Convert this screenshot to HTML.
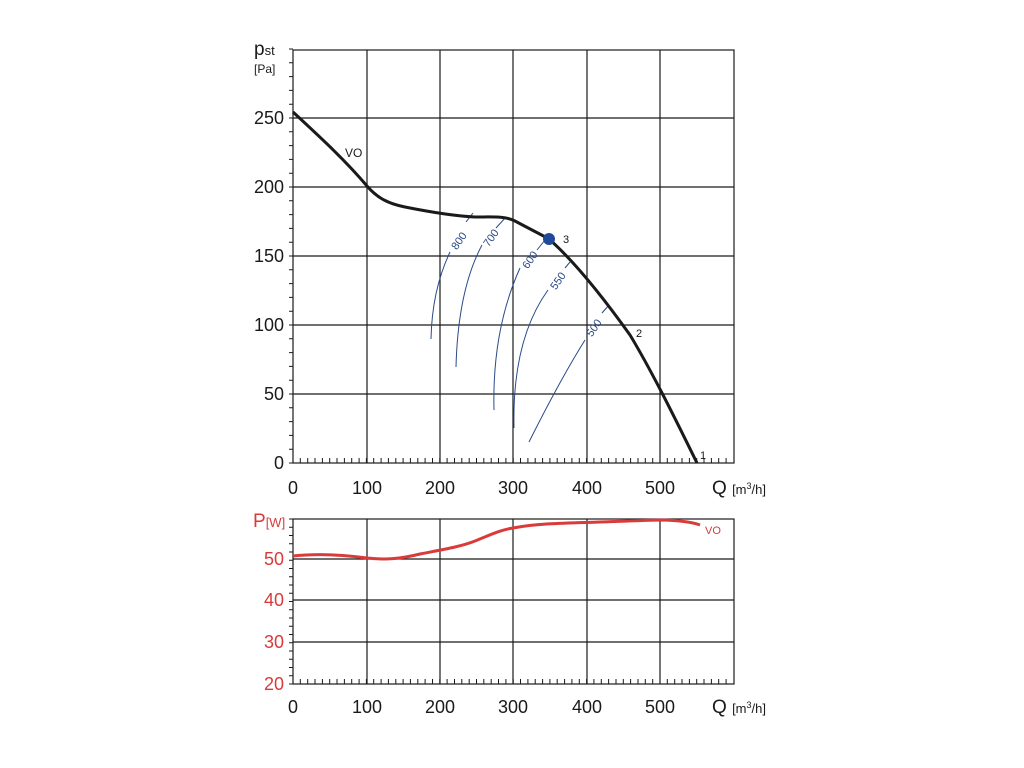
<!DOCTYPE html>
<html><head><meta charset="utf-8"><style>
html,body{margin:0;padding:0;background:#fff;}
svg{display:block;font-family:"Liberation Sans",Arial,sans-serif;}
</style></head><body>
<svg width="1024" height="768" viewBox="0 0 1024 768" xmlns="http://www.w3.org/2000/svg">
<g stroke="#1a1a1a" stroke-width="1.2" fill="none">
<rect x="293" y="50" width="441" height="413"/>
<path d="M367 50V463M440 50V463M513 50V463M587 50V463M660 50V463"/>
<path d="M293 118H734M293 187H734M293 256H734M293 325H734M293 394H734"/>
<rect x="293" y="519" width="441" height="165"/>
<path d="M367 519V684M440 519V684M513 519V684M587 519V684M660 519V684"/>
<path d="M293 559H734M293 600H734M293 642H734"/>
</g>
<g id="tk" stroke="#1a1a1a" stroke-width="1"></g>
<g stroke="#2a4a8a" stroke-width="1" fill="none">
<path d="M431 339 Q432 290 450 252"/><path d="M466 222 L473 213"/>
<path d="M456 367 Q458 290 482 245"/><path d="M496 228 L506 217"/>
<path d="M494 410 Q492 330 520 268"/><path d="M537 250 L545 240"/>
<path d="M514 428 Q512 340 548 290"/><path d="M565 268 L570 262"/>
<path d="M529 442 Q560 380 585 340"/><path d="M602 313 L609 305"/>
</g>
<g fill="#2a4a8a" font-size="11">
<text transform="translate(462,243) rotate(-55)" text-anchor="middle">800</text>
<text transform="translate(494,240) rotate(-55)" text-anchor="middle">700</text>
<text transform="translate(533,262) rotate(-55)" text-anchor="middle">600</text>
<text transform="translate(561,283) rotate(-55)" text-anchor="middle">550</text>
<text transform="translate(597,330) rotate(-55)" text-anchor="middle">500</text>
</g>
<path d="M293 112 C320 137 345 160 367 186 C378 199 390 204 405 207 C430 212 455 216 475 217 C495 217 505 216 515 221 C528 228 540 234 549 239 C575 262 605 300 630 335 C650 368 672 412 697 463" stroke="#1a1a1a" stroke-width="3" fill="none"/>
<circle cx="549" cy="239" r="6" fill="#1f4a99"/>
<g font-size="11" fill="#1a1a1a">
<text x="345" y="157" font-size="12">VO</text>
<text x="563" y="243">3</text>
<text x="636" y="337">2</text>
<text x="700" y="459">1</text>
</g>
<path d="d" stroke="none"/>
<path d="M293 556 C320 553 345 555 367 558 C385 560 400 559 420 554 C440 550 460 547 475 541 C490 535 500 530 513 528 C540 523 570 523 600 522 C630 521 650 520 665 520 C685 521 695 523 700 525" stroke="#d93a3a" stroke-width="3" fill="none"/>
<text x="705" y="534" font-size="11" fill="#d93a3a">VO</text>
<g font-size="18" fill="#1a1a1a" text-anchor="end">
<text x="284" y="124">250</text><text x="284" y="193">200</text><text x="284" y="262">150</text>
<text x="284" y="331">100</text><text x="284" y="400">50</text><text x="284" y="469">0</text>
</g>
<text x="254" y="55" font-size="19" fill="#1a1a1a">p<tspan font-size="13">st</tspan></text>
<text x="254" y="73" font-size="12" fill="#1a1a1a">[Pa]</text>
<g font-size="18" fill="#1a1a1a" text-anchor="middle">
<text x="293" y="494">0</text><text x="367" y="494">100</text><text x="440" y="494">200</text>
<text x="513" y="494">300</text><text x="587" y="494">400</text><text x="660" y="494">500</text>
<text x="293" y="713">0</text><text x="367" y="713">100</text><text x="440" y="713">200</text>
<text x="513" y="713">300</text><text x="587" y="713">400</text><text x="660" y="713">500</text>
</g>
<text x="712" y="494" font-size="19" fill="#1a1a1a">Q <tspan font-size="13">[m<tspan font-size="9" dy="-5">3</tspan><tspan dy="5">/h]</tspan></tspan></text>
<text x="712" y="713" font-size="19" fill="#1a1a1a">Q <tspan font-size="13">[m<tspan font-size="9" dy="-5">3</tspan><tspan dy="5">/h]</tspan></tspan></text>
<g font-size="18" fill="#d93a3a" text-anchor="end">
<text x="284" y="565">50</text><text x="284" y="606">40</text><text x="284" y="648">30</text><text x="284" y="690">20</text>
</g>
<text x="253" y="527" font-size="19" fill="#d93a3a">P<tspan font-size="13">[W]</tspan></text>
<script>
var g=document.getElementById('tk'),d='';
for(var i=1;i<60;i++){var x=293+i*7.34;d+='M'+x.toFixed(1)+' 463v-5M'+x.toFixed(1)+' 684v-5';}
for(var j=0;j<=30;j++){var y=463-j*13.8;d+='M289 '+y.toFixed(1)+'h4';}
for(var k=0;k<=20;k++){var y2=684-k*8.25;d+='M289 '+y2.toFixed(1)+'h4';}
var p=document.createElementNS('http://www.w3.org/2000/svg','path');p.setAttribute('d',d);g.appendChild(p);
</script>
</svg>
</body></html>
